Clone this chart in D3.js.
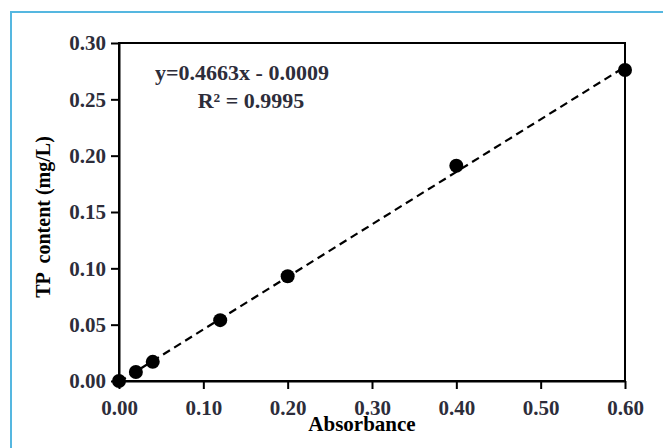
<!DOCTYPE html>
<html>
<head>
<meta charset="utf-8">
<script src="https://cdn.jsdelivr.net/npm/d3@7"></script>
<style>
  body { margin: 0; background: white; }
  svg text { font-family: "Liberation Serif", "Times New Roman", serif; font-weight: bold; white-space: pre; }
</style>
</head>
<body>
<svg width="663" height="448"></svg>
<script>
// standard curve data
const absorbance = [0, 0.02, 0.04, 0.12, 0.20, 0.40, 0.60];
const tpContent = [0, 0.008, 0.017, 0.054, 0.093, 0.191, 0.276];
const xTickValues = [0, 0.1, 0.2, 0.3, 0.4, 0.5, 0.6];
const yTickValues = [0, 0.05, 0.10, 0.15, 0.20, 0.25, 0.30];
const fitSlope = 0.4663;
const fitIntercept = -0.0009;
const fitRange = [0, 0.6];

const svg = d3.select('svg');
const svg_width = +svg.attr('width');
const svg_height = +svg.attr('height');

// light blue frame of the figure panel (top + left only visible)
svg.append('rect')
    .attr('x', 11).attr('y', 12)
    .attr('width', svg_width).attr('height', svg_height)
    .attr('fill', 'none')
    .attr('stroke', '#55b7e0')
    .attr('stroke-width', 2);

const margin = { top: 43, left: 119, right: 38, bottom: 67 };
const innerWidth = svg_width - margin.left - margin.right;
const innerHeight = svg_height - margin.top - margin.bottom;

const xScale = d3.scaleLinear().domain([0, 0.6]).range([0, innerWidth]);
const yScale = d3.scaleLinear().domain([0, 0.3]).range([innerHeight, 0]);

const g = svg.append('g')
    .attr('transform', `translate(${margin.left}, ${margin.top})`);

// box
g.append('rect')
    .attr('width', innerWidth).attr('height', innerHeight)
    .attr('fill', 'none').attr('stroke', 'black').attr('stroke-width', 2);

const fmt = d3.format('.2f');
const labelColor = '#2d2d3a';

const xAxis = d3.axisBottom(xScale)
    .tickValues(xTickValues).tickFormat(fmt)
    .tickSize(8).tickSizeOuter(0).tickPadding(11);
const xAxisGroup = g.append('g')
    .attr('transform', `translate(0, ${innerHeight})`)
    .call(xAxis);

const yAxis = d3.axisLeft(yScale)
    .tickValues(yTickValues).tickFormat(fmt)
    .tickSize(8).tickSizeOuter(0).tickPadding(5);
const yAxisGroup = g.append('g').call(yAxis);

[xAxisGroup, yAxisGroup].forEach(ax => {
    ax.select('.domain').attr('stroke-width', 2);
    ax.selectAll('.tick line').attr('stroke-width', 2);
    ax.selectAll('.tick text')
        .attr('fill', labelColor)
        .style('font-size', '21px');
});

// fitted line
g.append('line')
    .attr('x1', xScale(fitRange[0]))
    .attr('y1', yScale(fitSlope * fitRange[0] + fitIntercept))
    .attr('x2', xScale(fitRange[1]))
    .attr('y2', yScale(fitSlope * fitRange[1] + fitIntercept))
    .attr('stroke', 'black')
    .attr('stroke-width', 2.2)
    .attr('stroke-dasharray', '8,5');

// data points
g.selectAll('circle').data(absorbance)
    .enter()
    .append('circle')
    .attr('cx', d => xScale(d))
    .attr('cy', (d, i) => yScale(tpContent[i]))
    .attr('r', 7)
    .attr('fill', 'black');

// equation
g.append('text')
    .attr('x', 123).attr('y', 37)
    .attr('text-anchor', 'middle')
    .attr('fill', labelColor)
    .style('font-size', '22px')
    .text('y=0.4663x - 0.0009');
g.append('text')
    .attr('x', 132).attr('y', 65)
    .attr('text-anchor', 'middle')
    .attr('fill', labelColor)
    .style('font-size', '22px')
    .text('R² = 0.9995');

// axis titles
g.append('text')
    .attr('x', xScale(0.3) - 10)
    .attr('y', innerHeight + 50)
    .attr('text-anchor', 'middle')
    .attr('fill', 'black')
    .style('font-size', '21px')
    .text('Absorbance');

g.append('text')
    .attr('transform', `translate(${-69}, ${174}) rotate(-90)`)
    .attr('text-anchor', 'middle')
    .attr('fill', 'black')
    .style('font-size', '20px')
    .text('TP  content (mg/L)');
</script>
</body>
</html>
